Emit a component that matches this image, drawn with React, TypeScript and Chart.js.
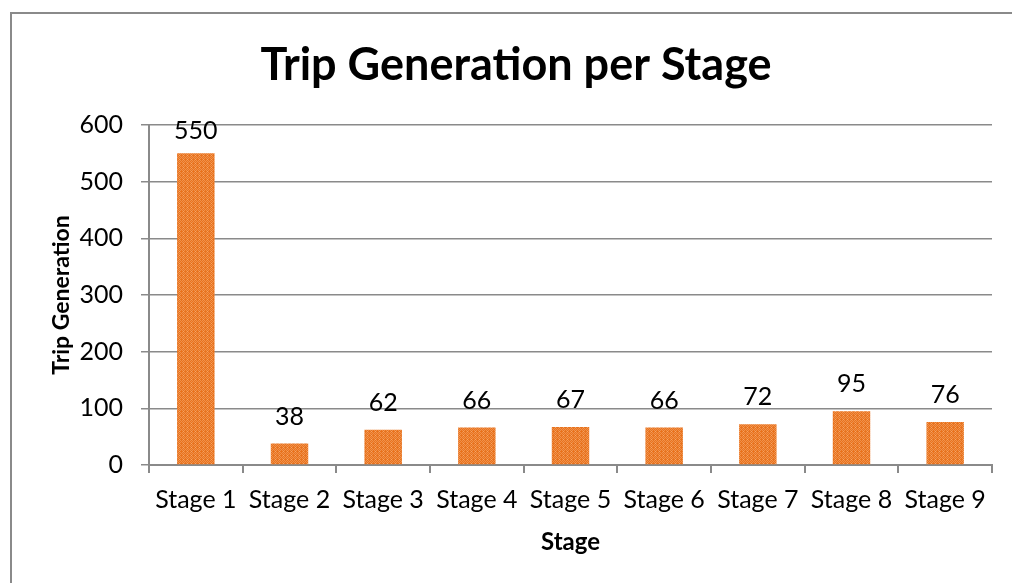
import React, { useEffect, useRef } from "react";
import { Chart, registerables } from "chart.js";

Chart.register(...registerables);

const categories = ["Stage 1", "Stage 2", "Stage 3", "Stage 4", "Stage 5", "Stage 6", "Stage 7", "Stage 8", "Stage 9"];
const tripGeneration = [550, 38, 62, 66, 67, 66, 72, 95, 76];
const chartTitle = "Trip Generation per Stage";
const xTitle = "Stage";
const yTitle = "Trip Generation";

const FONT = "Lato, 'Open Sans', sans-serif";

function makePattern(ctx: CanvasRenderingContext2D): CanvasPattern | string {
  const c = document.createElement("canvas");
  c.width = 4;
  c.height = 4;
  const p = c.getContext("2d");
  if (!p) return "#EC7A24";
  p.fillStyle = "#E8731E";
  p.fillRect(0, 0, 4, 4);
  p.fillStyle = "#F0904A";
  p.fillRect(0, 0, 1, 1);
  p.fillRect(2, 0, 1, 1);
  p.fillRect(1, 1, 1, 1);
  p.fillRect(3, 1, 1, 1);
  p.fillRect(0, 2, 1, 1);
  p.fillRect(2, 2, 1, 1);
  p.fillStyle = "#F4A668";
  p.fillRect(3, 3, 1, 1);
  const pat = ctx.createPattern(c, "repeat");
  return pat || "#EC7A24";
}

const labelPlugin = {
  id: "valueLabels",
  afterDatasetsDraw(chart: any) {
    const ctx = chart.ctx;
    const meta = chart.getDatasetMeta(0);
    const data = chart.data.datasets[0].data as number[];
    ctx.save();
    ctx.font = `25px ${FONT}`;
    ctx.fillStyle = "#000";
    ctx.textAlign = "center";
    ctx.textBaseline = "middle";
    meta.data.forEach((bar: any, i: number) => {
      const y = Math.max(bar.y - 27, chart.chartArea.top + 6);
      ctx.fillText(String(data[i]), bar.x, y);
    });
    ctx.restore();
  },
};

export default function App() {
  const ref = useRef<HTMLCanvasElement | null>(null);
  useEffect(() => {
    const canvas = ref.current;
    if (!canvas) return;
    const ctx = canvas.getContext("2d")!;
    const pattern = makePattern(ctx);
    const chart = new Chart(canvas, {
      type: "bar",
      data: {
        labels: categories,
        datasets: [
          {
            label: yTitle,
            data: tripGeneration,
            backgroundColor: pattern as any,
            borderWidth: 0,
            barPercentage: 0.4,
            categoryPercentage: 1,
          },
        ],
      },
      options: {
        responsive: false,
        animation: false,
        layout: { padding: { left: 32, right: 20, top: 0, bottom: 0 } },
        plugins: {
          legend: { display: false },
          tooltip: { enabled: false },
          title: {
            display: true,
            text: chartTitle,
            color: "#000",
            font: { family: FONT, size: 45, weight: "bold", lineHeight: 1.2 },
            padding: { top: 30, bottom: 33 },
          },
        },
        scales: {
          x: {
            offset: true,
            grid: {
              display: true,
              offset: true,
              drawOnChartArea: false,
              drawTicks: true,
              tickLength: 8,
              color: "#8a8a8a",
              lineWidth: 2,
            },
            border: { display: true, color: "#8a8a8a", width: 2 },
            ticks: {
              color: "#000",
              font: { family: FONT, size: 25 },
              padding: 12,
              maxRotation: 0,
              autoSkip: false,
            },
            title: {
              display: true,
              text: xTitle,
              color: "#000",
              font: { family: FONT, size: 24, weight: "bold", lineHeight: 1.2 },
              padding: { top: 0, bottom: 18 },
            },
            afterFit(scale: any) {
              scale.height = 110;
            },
          },
          y: {
            min: 0,
            max: 600,
            ticks: {
              stepSize: 100,
              color: "#000",
              font: { family: FONT, size: 25 },
              padding: 18,
            },
            grid: {
              color: "#8a8a8a",
              lineWidth: 1.5,
              tickLength: 8,
              drawTicks: true,
            },
            border: { display: true, color: "#8a8a8a", width: 2 },
            title: {
              display: true,
              text: yTitle,
              color: "#000",
              font: { family: FONT, size: 23, weight: "bold", lineHeight: 1.2 },
              padding: { top: 8, bottom: 0 },
            },
            afterFit(scale: any) {
              scale.width = 109;
            },
          },
        },
      },
      plugins: [labelPlugin],
    });
    return () => chart.destroy();
  }, []);
  return (
    <div style={{ position: "relative", width: 1004, height: 567 }}>
      <div
        style={{
          position: "fixed",
          left: 10,
          top: 12,
          right: -20,
          bottom: -20,
          borderLeft: "2px solid #8a8a8a",
          borderTop: "2px solid #8a8a8a",
          pointerEvents: "none",
        }}
      />
      <canvas
        ref={ref}
        width={1004}
        height={567}
        style={{ position: "relative", display: "block", width: 1004, height: 567 }}
      />
    </div>
  );
}
